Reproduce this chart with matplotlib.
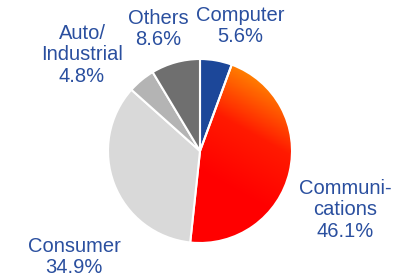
import numpy as np
import matplotlib.pyplot as plt
from matplotlib.colors import LinearSegmentedColormap

# dados do gráfico
categorias = ['Computer', 'Communi-\ncations', 'Consumer', 'Auto/\nIndustrial', 'Others']
valores = [5.6, 46.1, 34.9, 4.8, 8.6]
cores = ['#1c4799', '#ff2a00', '#d9d9d9', '#b4b4b4', '#6f6f6f']

# posição dos rótulos em pixels (x, y a partir do topo)
pos_rotulos = [(240, 26), (345, 210), (74, 257), (82, 55), (158, 29)]

W, H = 393, 278
cx, cy, r = 200, 151, 92

fig = plt.figure(figsize=(W / 100, H / 100), dpi=100)
ax = fig.add_axes([0, 0, 1, 1])

wedges, _ = ax.pie(valores, colors=cores, startangle=90, counterclock=False,
                   radius=1, center=(0, 0),
                   wedgeprops=dict(edgecolor='white', linewidth=1.5))

# gradiente laranja -> vermelho na fatia de comunicações
cmap = LinearSegmentedColormap.from_list('grad', ['#ff0000', '#ff1a00', '#ff8c00'])
gx, gy = np.meshgrid(np.linspace(-1, 1, 200), np.linspace(-1, 1, 200))
grad = np.clip((gx * 0.5 + gy * 0.9 + 0.2) / 1.3, 0, 1)
img = ax.imshow(grad, cmap=cmap, extent=(-1, 1, -1, 1), origin='lower',
                zorder=2, vmin=0, vmax=1)
img.set_clip_path(wedges[1])

# contorno branco por cima do gradiente
for w in wedges:
    w.set_zorder(3)
wedges[1].set_facecolor('none')

ax.set_xlim(-cx / r, (W - cx) / r)
ax.set_ylim(-(H - cy) / r, cy / r)
ax.set_aspect('equal')
ax.axis('off')

for cat, v, (px, py) in zip(categorias, valores, pos_rotulos):
    ax.text((px - cx) / r, (cy - py) / r, f'{cat}\n{v}%', ha='center', va='center',
            color='#2a4f9f', fontsize=14.5, family='Liberation Sans',
            linespacing=1.15)

fig.savefig('out.png', dpi=100)
